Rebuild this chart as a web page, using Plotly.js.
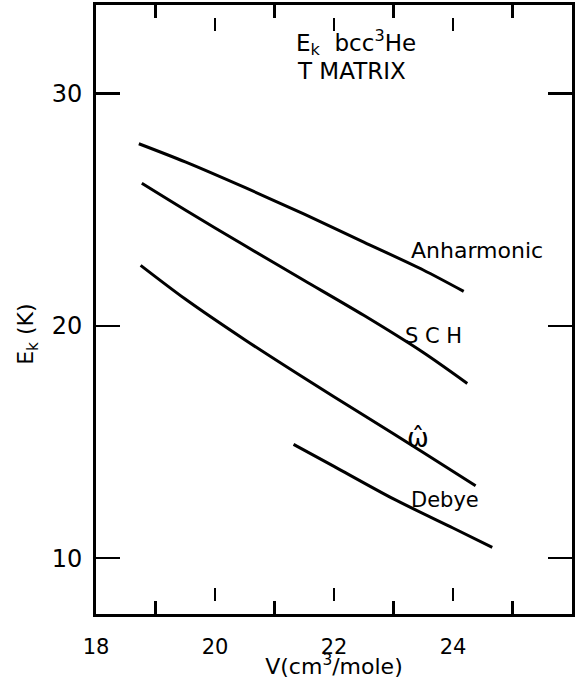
<!DOCTYPE html>
<html>
<head>
<meta charset="utf-8">
<script src="https://cdn.plot.ly/plotly-3.0.1.min.js"></script>
<style>html,body{margin:0;padding:0;background:#fff;}#chart{width:575px;height:679px;}</style>
</head>
<body>
<div id="chart"></div>
<script>
// Data (V in cm^3/mole, E_k in K)
const anhX = [18.72, 19.5, 20.5, 21.5, 22.5, 23.5, 24.18];
const anhY = [27.83, 27.05, 25.95, 24.8, 23.6, 22.4, 21.48];
const schX = [18.77, 19.5, 20.5, 21.5, 22.5, 23.5, 24.24];
const schY = [26.13, 24.98, 23.45, 21.95, 20.45, 18.85, 17.52];
const omgX = [18.75, 19.5, 20.5, 21.5, 22.5, 23.5, 24.38];
const omgY = [22.6, 21.15, 19.4, 17.75, 16.15, 14.55, 13.12];
const debX = [21.32, 22.0, 23.0, 24.0, 24.66];
const debY = [14.9, 13.95, 12.55, 11.3, 10.47];
const xTickVals = [18, 20, 22, 24];
const xMajorInner = [20, 22, 24];
const xMinorVals = [19, 21, 23, 25];
const yTickVals = [10, 20, 30];

const FONT = 'DejaVu Sans, Liberation Sans, sans-serif';
const lineStyle = {color: '#000', width: 3, shape: 'spline', smoothing: 0.8};

const traces = [
  {x: anhX, y: anhY, name: 'Anharmonic', mode: 'lines', line: lineStyle, showlegend: false},
  {x: schX, y: schY, name: 'SCH', mode: 'lines', line: lineStyle, showlegend: false},
  {x: omgX, y: omgY, name: '\u03c9\u0302', mode: 'lines', line: lineStyle, showlegend: false},
  {x: debX, y: debY, name: 'Debye', mode: 'lines', line: lineStyle, showlegend: false}
];

// Tick strips: thin sub-plots along the bottom and top edges whose x grid lines act as inward tick marks
const PLOT_H = 679 - 5 - 65;
const MAJ = 26 / PLOT_H, MIN = 13 / PLOT_H;
const strips = [
  {n: 2, dom: [0, MAJ], vals: xMajorInner},
  {n: 3, dom: [0, MIN], vals: xMinorVals},
  {n: 4, dom: [1 - MAJ, 1], vals: xMajorInner},
  {n: 5, dom: [1 - MIN, 1], vals: xMinorVals}
];

const layout = {
  width: 575, height: 679,
  margin: {l: 96, r: 3, t: 5, b: 65},
  font: {family: FONT, color: '#000'},
  showlegend: false,
  xaxis: {
    range: [18, 26], showgrid: false, zeroline: false,
    showline: true, linecolor: '#000', linewidth: 3, mirror: 'ticks',
    ticks: 'inside', ticklen: 26, tickwidth: 2.5, tickcolor: '#000',
    tickmode: 'array', tickvals: xTickVals,
    ticklabelstandoff: 12,
    tickfont: {size: 21, family: FONT},
    title: {text: 'V(cm<sup>3</sup>/mole)', font: {size: 22, family: FONT}, standoff: 9}
  },
  yaxis: {
    range: [7.6, 33.8], showgrid: false, zeroline: false,
    showline: true, linecolor: '#000', linewidth: 3, mirror: 'ticks',
    ticks: 'inside', ticklen: 24, tickwidth: 2.5, tickcolor: '#000',
    tickmode: 'array', tickvals: yTickVals,
    ticklabelstandoff: 6,
    tickfont: {size: 24, family: FONT}
  },
  annotations: [
    {xref: 'paper', yref: 'paper', x: -0.143, y: 0.46, text: 'E<sub>k</sub> (K)', textangle: -90,
     showarrow: false, font: {size: 22, family: FONT}, xanchor: 'center', yanchor: 'middle'},
    {x: 21.32, y: 32.2, text: 'E<sub>k</sub>  bcc<sup>3</sup>He', showarrow: false, xanchor: 'left', yanchor: 'middle',
     font: {size: 23, family: FONT}},
    {x: 21.34, y: 30.95, text: 'T MATRIX', showarrow: false, xanchor: 'left', yanchor: 'middle',
     font: {size: 23, family: FONT}},
    {x: 24.40, y: 23.24, text: 'Anharmonic', showarrow: false, font: {size: 22, family: FONT}},
    {x: 23.67, y: 19.55, text: 'S C H', showarrow: false, font: {size: 21, family: FONT}},
    {x: 23.41, y: 15.17, text: '\u03c9\u0302', showarrow: false, font: {size: 26, family: FONT}},
    {x: 23.87, y: 12.5, text: 'Debye', showarrow: false, font: {size: 21, family: FONT}}
  ]
};

strips.forEach(function(s){
  layout['xaxis' + s.n] = {
    range: [18, 26], anchor: 'y' + s.n, showticklabels: false, ticks: '', showline: false, zeroline: false,
    showgrid: true, gridcolor: '#000', gridwidth: 2.5, tickmode: 'array', tickvals: s.vals
  };
  layout['yaxis' + s.n] = {
    domain: s.dom, range: [0, 1], anchor: 'x' + s.n, visible: false, showgrid: false, zeroline: false
  };
  traces.push({x: [], y: [], xaxis: 'x' + s.n, yaxis: 'y' + s.n, mode: 'lines', showlegend: false, hoverinfo: 'skip'});
});

Plotly.newPlot('chart', traces, layout, {displayModeBar: false, staticPlot: true});
</script>
</body>
</html>
